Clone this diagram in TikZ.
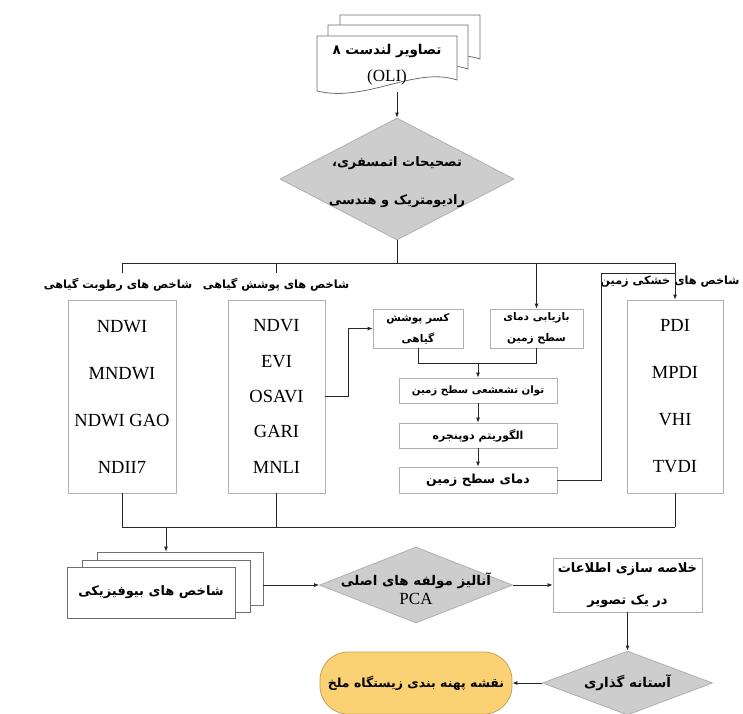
\documentclass[tikz,border=0pt]{standalone}
\usepackage{fontspec}
\setmainfont{Liberation Serif}
\newfontfamily\fafont[Script=Arabic]{DejaVu Sans}
\TeXXeTstate=1
\usetikzlibrary{shapes.geometric,arrows.meta}
\newcommand{\fa}[1]{{\fafont\bfseries\beginR #1\endR}}
% sheet with a wavy lower edge: x1, top, x2, lower left y
\newcommand{\wavedoc}[4]{\draw[sheet] (#1,#4) -- (#1,#2) -- (#3,#2) -- (#3,#4-11) .. controls ({#3-0.3*(#3-#1)},#4-25) and ({#1+0.35*(#3-#1)},#4+12) .. (#1,#4) -- cycle;}
\definecolor{edgegray}{RGB}{175,175,175}
\definecolor{docgray}{RGB}{110,110,110}
\definecolor{diagray}{RGB}{205,205,205}
\definecolor{mapfill}{RGB}{250,210,115}
\definecolor{mapedge}{RGB}{200,160,90}
\tikzset{
	conn/.style={draw=black!85,line width=0.8pt},
	arr/.style={conn,-{Latex[length=5pt,width=4pt]}},
	sheet/.style={draw=docgray,fill=white,line width=0.8pt},
	listbox/.style={draw=edgegray,line width=0.8pt,minimum height=193pt,align=center,inner sep=0pt,font=\fontsize{18.5}{47}\selectfont},
	stepbox/.style={draw=edgegray,line width=0.8pt,align=center,inner sep=0pt,font=\fontsize{10.6}{21}\selectfont},
	decision/.style={diamond,draw=edgegray,fill=diagray,line width=0.8pt,inner sep=0pt},
	fatxt/.style={inner sep=0pt,align=center,font=\fontsize{11.3}{13}\selectfont}
}
\begin{document}
\begin{tikzpicture}[x=1pt,y=-1pt]
	\useasboundingbox (0,0) rectangle (743,713);
	% landsat scenes
	\wavedoc{340}{15}{480}{70}
	\wavedoc{328}{25}{468}{80}
	\wavedoc{317}{36}{457}{91}
	\node[fatxt,font=\fontsize{13.5}{27}\selectfont] (oli) at (387,65) {\fa{تصاویر لندست ۸}\\{\fontsize{17}{20}\selectfont (OLI)}};
	\coordinate (olibot) at (397,92);
	\node[decision,minimum width=234pt,minimum height=122pt] (corr) at (397,179) {};
	\node[fatxt,font=\fontsize{13}{38}\selectfont] (corrtext) at (397,182) {\fa{تصحیحات اتمسفری،}\\\fa{رادیومتریک و هندسی}};
	\draw[arr] (olibot) -- (corr.north);
	% index groups
	\node[fatxt] (moistlbl) at (118,285) {\fa{شاخص های رطوبت گیاهی}};
	\node[fatxt] (veglbl) at (276,285) {\fa{شاخص های پوشش گیاهی}};
	\node[fatxt] (droughtlbl) at (670,282) {\fa{شاخص های خشکی زمین}};
	\node[listbox,minimum width=108pt] (moist) at (122,396.5) {NDWI\\MNDWI\\NDWI GAO\\NDII7};
	\node[listbox,minimum width=97pt,font=\fontsize{18.5}{35.3}\selectfont] (veg) at (276.5,396.5) {NDVI\\EVI\\OSAVI\\GARI\\MNLI};
	\node[listbox,minimum width=96pt] (drought) at (675,396.5) {PDI\\MPDI\\VHI\\TVDI};
	% land surface temperature
	\node[stepbox,minimum width=90pt,minimum height=39pt] (frac) at (418,328.5) {\fa{کسر پوشش}\\\fa{گیاهی}};
	\node[stepbox,minimum width=93pt,minimum height=39pt] (lstret) at (536.5,328.5) {\fa{بازیابی دمای}\\\fa{سطح زمین}};
	\node[stepbox,minimum width=158pt,minimum height=25pt,font=\fontsize{10.2}{12}\selectfont] (emis) at (478,390.5) {\fa{توان تشعشعی سطح زمین}};
	\node[stepbox,minimum width=158pt,minimum height=25pt,font=\fontsize{11}{12}\selectfont] (split) at (478,435.5) {\fa{الگوریتم دوپنجره}};
	\node[stepbox,minimum width=158pt,minimum height=26pt,font=\fontsize{12.5}{14}\selectfont] (lst) at (478,480) {\fa{دمای سطح زمین}};
	% bus below the corrections
	\coordinate (busL) at (122,263);
	\coordinate (busR) at (675,263);
	\draw[conn] (corr.south) -- (corr.south |- busL);
	\draw[conn] (busL) -- (busR);
	\foreach \x in {122,276}
	\draw[conn] (\x,263) -- (\x,273);
	\draw[arr] (lstret.north |- busL) -- (lstret.north);
	\draw[arr] (busR) -- (drought.north);
	\draw[arr] (veg.east) -- ++(23,0) |- (frac.west);
	\coordinate (mrg) at (478,363);
	\draw[conn] (frac.south) |- (mrg) -| (lstret.south);
	\draw[arr] (mrg) -- (emis.north);
	\draw[arr] (emis.south) -- (split.north);
	\draw[arr] (split.south) -- (lst.north);
	\coordinate (dj) at (675,273);
	\draw[conn] (lst.east) -- ++(44,0) |- (dj);
	% bus below the groups
	\coordinate (busB) at (122,527);
	\foreach \n in {moist,veg,drought}
	\draw[conn] (\n.south) -- (\n.south |- busB);
	\draw[conn] (busB) -- (drought.south |- busB);
	% biophysical indices
	\node[sheet,minimum width=166pt,minimum height=53pt] (bioback) at (180,578.5) {};
	\node[sheet,minimum width=168pt,minimum height=52pt] (biomid) at (166,586) {};
	\node[sheet,minimum width=168pt,minimum height=51pt,font=\fontsize{13}{15}\selectfont] (bio) at (151,592.5) {\fa{شاخص های بیوفیزیکی}};
	\coordinate (bioin) at (166,527);
	\draw[arr] (bioin) -- (bioin |- bioback.north);
	% pca and output
	\node[decision,minimum width=193pt,minimum height=76pt] (pca) at (416,585) {};
	\node[fatxt,font=\fontsize{13.4}{19}\selectfont] (pcatext) at (416,589) {\fa{آنالیز مولفه های اصلی}\\{\fontsize{17}{19}\selectfont PCA}};
	\draw[arr] (bioback.east |- pca.west) -- (pca.west);
	\node[stepbox,minimum width=149pt,minimum height=54pt,font=\fontsize{13}{32}\selectfont] (sum) at (627.5,585) {\fa{خلاصه سازی اطلاعات}\\\fa{در یک تصویر}};
	\draw[arr] (pca.east) -- (sum.west);
	\node[decision,minimum width=170pt,minimum height=64pt] (thr) at (627.5,683) {};
	\node[fatxt,font=\fontsize{13.5}{15}\selectfont] (thrtext) at (thr) {\fa{آستانه گذاری}};
	\draw[arr] (sum.south) -- (thr.north);
	\node[draw=mapedge,fill=mapfill,line width=0.8pt,rounded corners=28pt,minimum width=192pt,minimum height=62pt,inner sep=0pt,font=\fontsize{12.5}{15}\selectfont] (map) at (416,683) {\fa{نقشه پهنه بندی زیستگاه ملخ}};
	\draw[arr] (thr.west) -- (map.east);
\end{tikzpicture}
\end{document}
